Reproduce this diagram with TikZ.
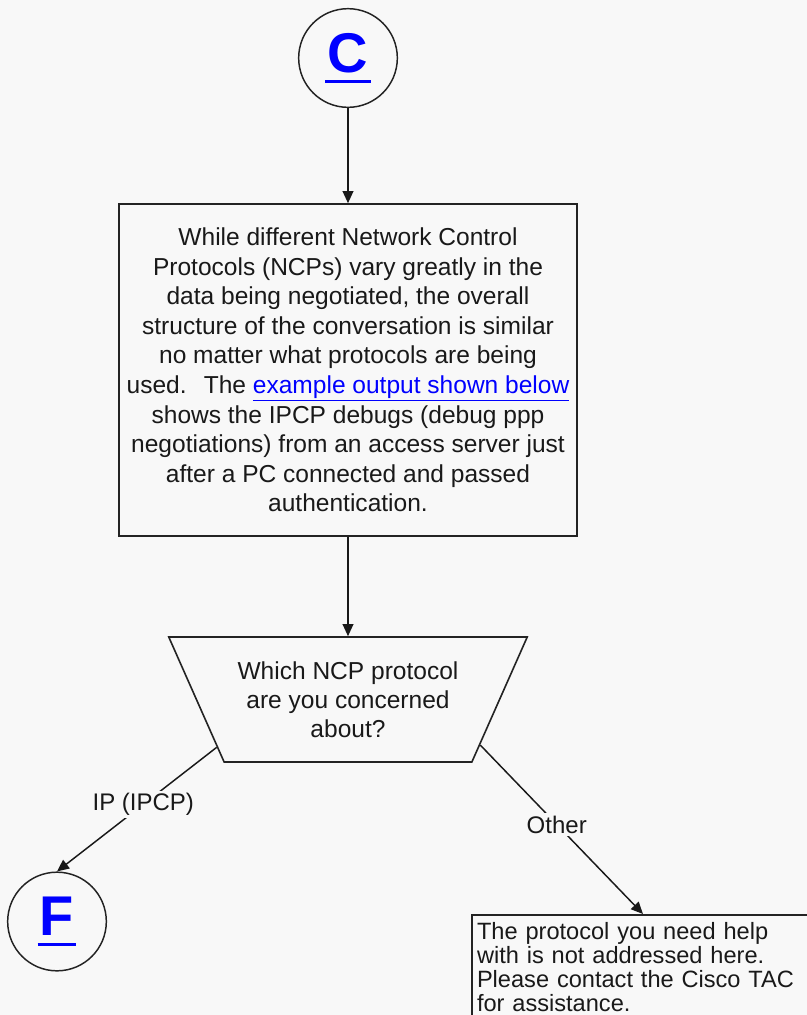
\documentclass[tikz,border=0pt]{standalone}
\usepackage{fontspec}
\setmainfont{Liberation Sans}
\usepackage{tikz}
\usetikzlibrary{shapes.geometric,arrows.meta}

\newcommand{\jumpmark}[1]{{\setbox0=\hbox{\bfseries #1}\kern1.75pt\rlap{\kern-1.75pt\rule[-7.5pt]{\dimexpr\wd0+3.5pt\relax}{2.25pt}}\box0\kern1.75pt}}

\begin{document}
\begin{tikzpicture}[x=0.75pt,y=0.75pt,yscale=-1,xscale=1,
  conn/.style={draw={rgb,255:red,25;green,25;blue,25}, line width=1.1pt, -{Triangle[length=9pt,width=8pt]}},
  textbox/.style={draw={rgb,255:red,35;green,35;blue,35}, line width=1.2pt, text={rgb,255:red,25;green,25;blue,25}},
  jumpcircle/.style={draw={rgb,255:red,35;green,35;blue,35}, circle, line width=1.1pt, minimum size=74pt, inner sep=0pt, font=\fontsize{42}{42}\selectfont, text={rgb,255:red,0;green,0;blue,255}},
  branchlabel/.style={fill={rgb,255:red,248;green,248;blue,248}, inner sep=2pt, font=\fontsize{18}{18}\selectfont, text={rgb,255:red,25;green,25;blue,25}}]
\clip (0,0) rectangle (807,1015);
%Shape: Background
\fill[fill={rgb,255:red,248;green,248;blue,248}] (0,0) rectangle (807,1015);

%Shape: Circle [C]
\node[jumpcircle] (c) at (348,58) {\jumpmark{C}};
%Shape: Rectangle [NCP text]
\node[textbox, minimum width=343.5pt, minimum height=249pt, align=center, font=\fontsize{18.4}{22.2}\selectfont] (ncp) at (348,370) {While different Network Control\\Protocols (NCPs) vary greatly in the\\data being negotiated, the overall\\structure of the conversation is similar\\no matter what protocols are being\\used.\hspace{0.7em}The \textcolor{blue}{\underline{example output shown below}}\\shows the IPCP debugs (debug ppp\\negotiations) from an access server just\\after a PC connected and passed\\authentication.};
%Shape: Trapezoid [question]
\node[textbox, trapezium, shape border rotate=180, trapezium angle=57, trapezium stretches=true, minimum width=269.25pt, minimum height=93.75pt, inner sep=0pt, align=center, font=\fontsize{18.4}{21.75}\selectfont] (which) at (348,699.5) {Which NCP protocol\\are you concerned\\about?};
%Shape: Circle [F]
\node[jumpcircle] (f) at (57,921.5) {\jumpmark{F}};
%Shape: Rectangle [contact TAC]
\node[textbox, anchor=north, text width=249pt, inner xsep=3.75pt, inner ysep=6pt, align=left, font=\fontsize{17.7}{18}\selectfont] (tac) at (643,914) {The protocol you need help\\with is not addressed here.\\Please contact the Cisco TAC\\for assistance.};

%Straight Lines
\draw[conn] (c) -- (ncp);
%Straight Lines
\draw[conn] (ncp) -- (which.90);
%Straight Lines
\draw[conn] (which.200) -- node[branchlabel, pos=0.46] {IP (IPCP)} (f.north);
%Straight Lines
\draw[conn] (which.341) -- node[branchlabel, pos=0.47] {Other} (tac.north);

\end{tikzpicture}
\end{document}
